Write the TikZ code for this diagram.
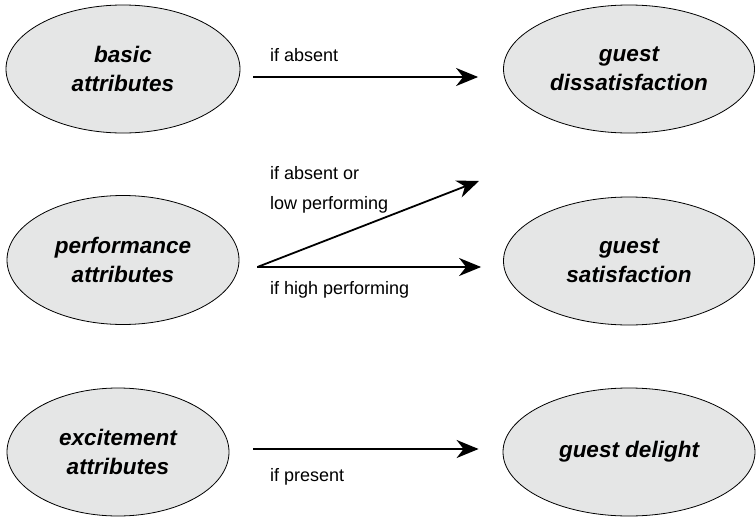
\documentclass[tikz,border=0pt]{standalone}
\usepackage{fontspec}
\setmainfont{Liberation Sans}
\usetikzlibrary{arrows.meta,shapes.geometric}
\definecolor{ellfill}{RGB}{229,230,230}
\tikzset{
  ell/.style={ellipse, draw=black, line width=0.8pt, fill=ellfill, inner sep=0pt,
    align=center, font=\fontsize{22.5}{28.5}\selectfont\bfseries\itshape},
  arr/.style={line width=1.8pt, -{Stealth[length=22pt,width=18pt,inset=7pt]}},
  lbl/.style={anchor=west, inner sep=0pt, align=left, font=\fontsize{18}{30}\selectfont}
}
\begin{document}
\begin{tikzpicture}[x=1pt,y=-1pt]
\useasboundingbox (0,0) rectangle (756,517);
% left column
\node[ell, minimum width=234pt, minimum height=128pt] (basic) at (123,69) {basic\\attributes};
\node[ell, minimum width=232pt, minimum height=129pt] (perf) at (123,260) {performance\\attributes};
\node[ell, minimum width=222pt, minimum height=128pt] (exc) at (118,452) {excitement\\attributes};
% right column
\node[ell, minimum width=251pt, minimum height=128pt] (dis) at (629,69) {guest\\dissatisfaction};
\node[ell, minimum width=251pt, minimum height=128pt] (sat) at (629,261) {guest\\satisfaction};
\node[ell, minimum width=252pt, minimum height=128pt] (del) at (629,452) {guest delight};
% free end of the diagonal arrow
\coordinate (up) at (479,181);
% arrows
\draw[arr] ([shift={(13,8)}]basic.east) -- ([shift={(-25,8)}]dis.west);
\draw[arr] ([shift={(18,7)}]perf.east) -- (up);
\draw[arr] ([shift={(18,7)}]perf.east) -- ([shift={(-22,6)}]sat.west);
\draw[arr] ([shift={(24,-3)}]exc.east) -- ([shift={(-24,-3)}]del.west);
% labels
\node[lbl] (l1) at (270,55) {if absent};
\node[lbl] (l2) at (270,190) {if absent or\\low performing};
\node[lbl] (l3) at (270,290) {if high performing};
\node[lbl] (l4) at (270,477) {if present};
\end{tikzpicture}
\end{document}
